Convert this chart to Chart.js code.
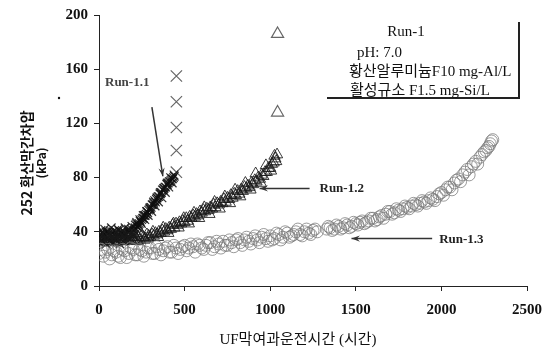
<!DOCTYPE html>
<html>
<head>
<meta charset="utf-8">
<script src="https://cdn.jsdelivr.net/npm/chart.js@4"></script>
<style>
  body { margin: 0; background: #fff; }
  canvas { display: block; }
</style>
</head>
<body>
<canvas id="tmp-chart" width="552" height="352"></canvas>
<script>
// Run-1.1 (×)
const run11X = [0, 5, 10, 15, 20, 25, 30, 35, 40, 45, 50, 55, 60, 65, 70, 75, 80, 85, 90, 95, 100, 105, 110, 115, 120, 125, 130, 135, 140, 145, 150, 155, 160, 165, 170, 175, 180, 185, 190, 195, 200, 205, 210,
    215, 220, 225, 230, 235, 240, 245, 250, 255, 260, 265, 270, 275, 280, 285, 290, 295, 300, 305, 310, 315, 320, 325, 330, 335, 340, 345, 350, 355, 360, 365, 370, 375, 380, 385, 390, 395, 400, 405, 410, 415, 420, 425, 430, 435, 440,
    3, 12, 22, 33, 42, 52, 63, 72, 83, 92, 103, 112, 122, 133, 142, 152, 163, 172, 183, 192, 203, 212,
    218, 228, 238, 248, 258, 268, 278, 288, 298, 308, 318, 328, 338, 348, 358, 368, 378, 388, 398, 408, 418, 428, 438];
const run11Y = [36, 38, 34, 37, 39, 35, 38, 36, 40, 37, 35, 39, 37, 34, 38, 36, 40, 38, 35, 37, 39, 36, 38, 41, 37, 35, 39, 38, 36, 40, 37, 39, 38, 36, 40, 41, 38, 39, 42, 40, 38, 41, 43,
    42, 47, 44, 45, 46, 48, 47, 49, 50, 50, 52, 52, 53, 55, 54, 56, 57, 57, 58, 60, 60, 61, 63, 62, 64, 65, 66, 66, 68, 68, 69, 71, 71, 72, 73, 73, 75, 75, 76, 77, 77, 78, 79, 79, 80, 81,
    32, 41, 33, 42, 31, 40, 33, 43, 32, 41, 34, 42, 31, 40, 33, 43, 34, 42, 35, 44, 37, 45,
    46, 43, 49, 46, 52, 49, 55, 52, 58, 55, 62, 59, 65, 62, 69, 65, 72, 69, 76, 73, 80, 76, 82];
const run11OutX = [452, 452, 452, 452, 452];
const run11OutY = [155, 136, 117, 100, 84];

// Run-1.2 (△)
const run12X = [0, 10, 20, 30, 40, 50, 60, 70, 80, 90, 100, 110, 120, 130, 140, 150, 160, 170, 180, 190, 200, 210, 220, 230, 240, 250, 260, 270, 280, 290, 300,
    310, 320, 330, 340, 350, 360, 370, 380, 390, 400, 410, 420, 430, 440, 450, 460, 470, 480, 490, 500, 510, 520, 530, 540, 550, 560, 570, 580, 590, 600,
    610, 620, 630, 640, 650, 660, 670, 680, 690, 700, 710, 720, 730, 740, 750, 760, 770, 780, 790, 800, 810, 820, 830, 840, 850, 860, 870, 880, 890, 900,
    910, 920, 930, 940, 950, 960, 970, 980, 990, 1000, 1010, 1020, 1030, 1040,
    5, 25, 45, 65, 85, 105, 125, 145, 165, 185, 205, 225, 245, 265, 285,
    315, 345, 375, 405, 435, 465, 495, 525, 555, 585, 615, 645, 675, 705, 735, 765, 795, 825, 855, 885, 915, 945, 975, 1005, 1025, 1035];
const run12Y = [35, 37, 33, 36, 38, 34, 36, 35, 37, 33, 36, 38, 35, 34, 37, 36, 33, 35, 38, 36, 34, 37, 35, 36, 34, 37, 36, 35, 38, 37, 36,
    38, 37, 39, 38, 40, 39, 41, 40, 42, 41, 43, 42, 45, 43, 46, 45, 47, 46, 48, 47, 50, 48, 51, 50, 52, 51, 53, 52, 55, 54,
    56, 55, 57, 56, 58, 57, 60, 58, 61, 60, 62, 61, 64, 62, 65, 64, 67, 65, 68, 67, 70, 68, 71, 70, 73, 72, 74, 73, 76, 75,
    78, 77, 80, 79, 82, 81, 84, 84, 87, 87, 90, 91, 94, 97,
    38, 32, 39, 33, 38, 32, 39, 33, 39, 34, 38, 33, 39, 34, 35,
    40, 36, 43, 39, 46, 43, 50, 46, 54, 50, 58, 53, 62, 57, 66, 61, 71, 66, 76, 71, 83, 76, 89, 85, 96, 92];
const run12OutX = [1043, 1043];
const run12OutY = [186, 128];

// Run-1.3 (○), two runs of operation with a break near 1300 h
const run13X = [0, 25, 50, 75, 100, 125, 150, 175, 200, 225, 250, 275, 300, 325, 350, 375, 400, 425, 450, 475, 500, 525, 550, 575, 600, 625, 650, 675, 700, 725, 750, 775, 800, 825, 850, 875, 900, 925, 950, 975, 1000, 1025, 1050, 1075, 1100, 1125, 1150, 1175, 1200, 1225, 1250, 1275,
    12, 37, 62, 87, 112, 137, 162, 187, 212, 237, 262, 287, 312, 337, 362, 387, 412, 437, 462, 487, 512, 537, 562, 587, 612, 637, 662, 687, 712, 737, 762, 787, 812, 837, 862, 887, 912, 937, 962, 987, 1012, 1037, 1062, 1087, 1112, 1137, 1162, 1187, 1212, 1237, 1262,
    1330, 1350, 1375, 1400, 1425, 1450, 1475, 1500, 1525, 1550, 1575, 1600, 1625, 1650, 1675, 1700, 1725, 1750, 1775, 1800, 1825, 1850, 1875, 1900, 1925, 1950, 1975, 2000, 2025, 2050, 2075, 2100, 2125, 2150, 2175, 2200, 2225, 2250, 2270, 2285, 2300,
    1340, 1362, 1387, 1412, 1437, 1462, 1487, 1512, 1537, 1562, 1587, 1612, 1637, 1662, 1687, 1712, 1737, 1762, 1787, 1812, 1837, 1862, 1887, 1912, 1937, 1962, 1987, 2012, 2037, 2062, 2087, 2112, 2137, 2162, 2187, 2212, 2237, 2260, 2278, 2293];
const run13Y = [24, 22, 27, 23, 25, 21, 26, 24, 27, 23, 26, 25, 28, 24, 27, 26, 29, 25, 28, 27, 30, 28, 29, 31, 28, 30, 32, 29, 31, 33, 30, 32, 34, 32, 34, 33, 35, 34, 36, 35, 37, 35, 38, 36, 39, 37, 40, 38, 40, 39, 41, 40,
    27, 25, 20, 26, 22, 27, 21, 28, 23, 27, 22, 28, 24, 29, 23, 28, 25, 30, 24, 29, 26, 31, 25, 30, 27, 32, 27, 33, 28, 30, 34, 29, 35, 30, 36, 31, 37, 32, 38, 33, 34, 39, 34, 40, 36, 38, 42, 37, 42, 38, 42,
    42, 43, 42, 44, 43, 45, 44, 46, 47, 46, 48, 50, 49, 52, 53, 55, 54, 56, 57, 58, 59, 60, 61, 62, 63, 64, 66, 69, 71, 73, 76, 79, 82, 86, 88, 92, 95, 99, 102, 105, 108,
    44, 41, 45, 42, 46, 43, 47, 45, 48, 47, 50, 48, 51, 50, 55, 53, 57, 55, 59, 57, 61, 59, 63, 61, 65, 63, 68, 67, 73, 71, 78, 77, 84, 82, 90, 90, 97, 100, 103, 107];

const xTicks = [0, 500, 1000, 1500, 2000, 2500];
const yTicks = [0, 40, 80, 120, 160, 200];

const toPoints = (xs, ys) => xs.map((x, i) => ({ x: x, y: ys[i] }));

const SERIF = '"Liberation Serif", "Noto Sans CJK KR", serif';
const SANS = '"Noto Sans CJK KR", "Liberation Sans", sans-serif';

let drawArrow = (ctx, x1, y1, x2, y2) => {
    const ang = Math.atan2(y2 - y1, x2 - x1);
    const head = 9;
    ctx.beginPath();
    ctx.moveTo(x1, y1);
    ctx.lineTo(x2, y2);
    ctx.stroke();
    ctx.beginPath();
    ctx.moveTo(x2, y2);
    ctx.lineTo(x2 - head * Math.cos(ang - 0.35), y2 - head * Math.sin(ang - 0.35));
    ctx.lineTo(x2 - head * 0.6 * Math.cos(ang), y2 - head * 0.6 * Math.sin(ang));
    ctx.lineTo(x2 - head * Math.cos(ang + 0.35), y2 - head * Math.sin(ang + 0.35));
    ctx.closePath();
    ctx.fill();
};

let rotatedText = (ctx, text, x, y, font) => {
    ctx.save();
    ctx.translate(x, y);
    ctx.rotate(-Math.PI / 2);
    ctx.font = font;
    ctx.textBaseline = "alphabetic";
    ctx.fillText(text, 0, 0);
    ctx.restore();
};

// arrows, run labels, condition box and axis titles
const notes = {
    id: "notes",
    afterDatasetsDraw(chart) {
        const ctx = chart.ctx;
        const xs = chart.scales.x;
        const ys = chart.scales.y;
        const px = v => xs.getPixelForValue(v);
        const py = v => ys.getPixelForValue(v);

        ctx.save();
        ctx.strokeStyle = "#333";
        ctx.fillStyle = "#333";
        ctx.lineWidth = 1.5;
        drawArrow(ctx, px(309), py(132), px(373), py(81));
        drawArrow(ctx, px(1230), py(72), px(938), py(72));
        drawArrow(ctx, px(1946), py(35), px(1475), py(35));

        ctx.font = "bold 13px " + SERIF;
        ctx.textBaseline = "middle";
        ctx.textAlign = "left";
        ctx.fillStyle = "#444";
        ctx.fillText("Run-1.1", px(35), py(150));
        ctx.fillStyle = "#222";
        ctx.fillText("Run-1.2", px(1288), py(72));
        ctx.fillText("Run-1.3", px(1987), py(34));

        // condition box (shadowed edges only)
        ctx.strokeStyle = "#222";
        ctx.lineWidth = 2;
        ctx.beginPath();
        ctx.moveTo(519, 22);
        ctx.lineTo(519, 98);
        ctx.lineTo(327, 98);
        ctx.stroke();

        ctx.fillStyle = "#111";
        ctx.font = "15px " + SERIF;
        ctx.textAlign = "center";
        ctx.fillText("Run-1", 406, 32);
        ctx.textAlign = "left";
        ctx.fillText("pH: 7.0", 357, 53);
        ctx.fillText("황산알루미늄F10 mg-Al/L", 349, 72);
        ctx.fillText("활성규소 F1.5 mg-Si/L", 350, 91);

        // axis titles
        ctx.font = "15px " + SERIF;
        ctx.textAlign = "center";
        ctx.fillText("UF막여과운전시간 (시간)", 298, 340);

        // baseline x: glyphs sit to the left of it once rotated
        rotatedText(ctx, "252 환산막간차압", 32, 163, "bold 14px " + SANS);
        rotatedText(ctx, "(kPa)", 46, 163, "bold 12px " + SANS);

        ctx.beginPath();
        ctx.arc(59, 98, 1.2, 0, Math.PI * 2);
        ctx.fill();
        ctx.restore();
    }
};

let initChart = () => {
    const tickFont = { family: SERIF, size: 15, weight: "bold" };

    const chartOptions = {
        responsive: false,
        animation: false,
        layout: {
            padding: { top: 8, right: 24, left: 0, bottom: 0 }
        },
        plugins: {
            legend: { display: false },
            tooltip: { enabled: false }
        },
        scales: {
            x: {
                type: "linear",
                min: 0,
                max: 2500,
                afterFit: scale => { scale.height = 66; },
                afterBuildTicks: scale => { scale.ticks = xTicks.map(v => ({ value: v })); },
                border: { color: "#222", width: 1 },
                grid: { display: true, drawOnChartArea: false, color: "#222", tickLength: 5 },
                ticks: { font: tickFont, color: "#111", padding: 10, maxRotation: 0, callback: v => String(v) }
            },
            y: {
                min: 0,
                max: 200,
                afterFit: scale => { scale.width = 99; },
                afterBuildTicks: scale => { scale.ticks = yTicks.map(v => ({ value: v })); },
                border: { color: "#222", width: 1 },
                grid: { display: true, drawOnChartArea: false, color: "#222", tickLength: 5 },
                ticks: { font: tickFont, color: "#111", padding: 6, callback: v => String(v) }
            }
        }
    };

    const config = {
        type: "scatter",
        options: chartOptions,
        plugins: [notes],
        data: {
            datasets: [
                {
                    label: "Run-1.3",
                    data: toPoints(run13X, run13Y),
                    pointStyle: "circle",
                    pointRadius: 6,
                    borderColor: "rgba(120,120,120,0.75)",
                    backgroundColor: "rgba(255,255,255,0)",
                    borderWidth: 1
                },
                {
                    label: "Run-1.2",
                    data: toPoints(run12X, run12Y),
                    pointStyle: "triangle",
                    pointRadius: 6.5,
                    borderColor: "rgba(25,25,25,0.85)",
                    backgroundColor: "rgba(255,255,255,0)",
                    borderWidth: 1
                },
                {
                    label: "Run-1.2 ",
                    data: toPoints(run12OutX, run12OutY),
                    pointStyle: "triangle",
                    pointRadius: 7,
                    borderColor: "#666",
                    backgroundColor: "rgba(255,255,255,0)",
                    borderWidth: 1.2
                },
                {
                    label: "Run-1.1",
                    data: toPoints(run11X, run11Y),
                    pointStyle: "crossRot",
                    pointRadius: 6,
                    borderColor: "rgba(15,15,15,0.85)",
                    borderWidth: 1.2
                },
                {
                    label: "Run-1.1 ",
                    data: toPoints(run11OutX, run11OutY),
                    pointStyle: "crossRot",
                    pointRadius: 8,
                    borderColor: "#666",
                    borderWidth: 1.2
                }
            ]
        }
    };

    new Chart("tmp-chart", config);
};

initChart();
</script>
</body>
</html>
